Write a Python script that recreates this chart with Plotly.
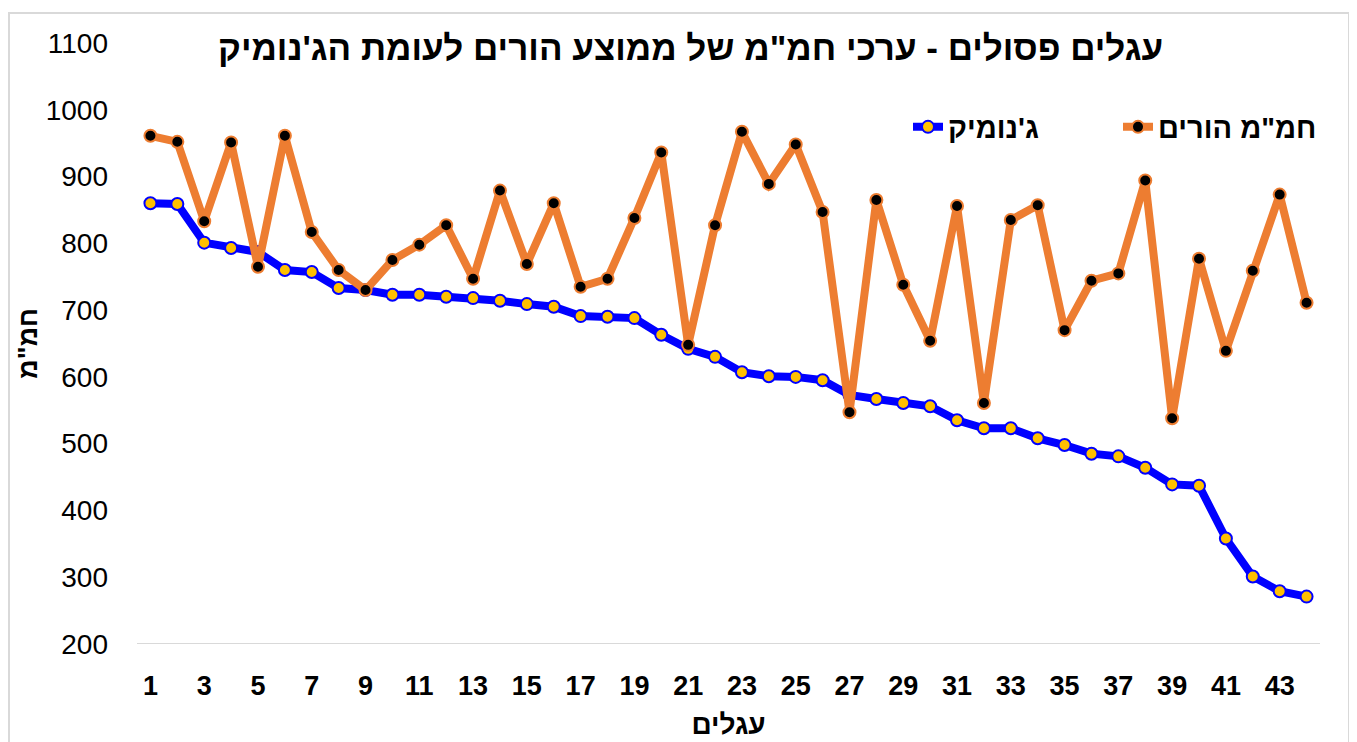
import plotly.graph_objects as go

calves = list(range(1, 45))
genomic = [860, 859, 801, 793, 787, 760, 757, 733, 730, 723, 723, 720, 718, 714, 709, 705,
           691, 690, 688, 663, 642, 630, 607, 601, 600, 595, 573, 567, 561, 556, 535, 523,
           523, 508, 498, 485, 481, 464, 439, 437, 358, 301, 279, 271]
parents = [961, 952, 833, 951, 765, 961, 817, 760, 730, 775, 798, 827, 747, 879, 769, 860,
           735, 747, 838, 936, 648, 827, 967, 889, 948, 847, 547, 865, 738, 654, 856, 561,
           835, 857, 670, 744, 755, 894, 538, 777, 639, 759, 873, 711]
tick_vals = list(range(1, 44, 2))
y_ticks = list(range(200, 1101, 100))

title_text = 'עגלים פסולים - ערכי חמ"מ של ממוצע הורים לעומת הג\'נומיק'
name_genomic = "ג'נומיק"
name_parents = 'חמ"מ הורים'
x_title = 'עגלים'
y_title = 'חמ"מ'

FONT = "Liberation Sans, Arial, sans-serif"

W, H = 1349, 734
L, R, T, B = 129, 37, 35, 98
PW, PH = W - L - R, H - T - B


def px_x(p):
    return (p - L) / PW


def px_y(p):
    return 1 - (p - T) / PH


fig = go.Figure()
fig.add_trace(go.Scatter(
    x=calves, y=genomic, name="<b>" + name_genomic + "</b>", mode="lines+markers",
    line=dict(color="#0000FF", width=8),
    marker=dict(size=12, color="#FFC000", line=dict(color="#0000FF", width=2)),
))
fig.add_trace(go.Scatter(
    x=calves, y=parents, name="<b>" + name_parents + "</b>", mode="lines+markers",
    line=dict(color="#ED7D31", width=8),
    marker=dict(size=12, color="#000000", line=dict(color="#ED7D31", width=2)),
))

fig.update_layout(
    width=W, height=H,
    paper_bgcolor="white", plot_bgcolor="white",
    margin=dict(l=L, r=R, t=T, b=B),
    font=dict(family=FONT, color="#000000", size=24),
    showlegend=True,
    legend=dict(orientation="h", x=px_x(900), xanchor="left", y=px_y(119), yanchor="middle",
                font=dict(family=FONT, size=29, color="#000000"),
                bgcolor="rgba(0,0,0,0)", tracegroupgap=0,
                entrywidth=165, entrywidthmode="pixels"),
    annotations=[
        dict(text="<b>" + title_text + "</b>", xref="paper", yref="paper",
             x=px_x(682), y=px_y(39), xanchor="center", yanchor="middle",
             showarrow=False, font=dict(family=FONT, size=35, color="#000000")),
    ],
    shapes=[
        dict(type="rect", xref="paper", yref="paper",
             x0=px_x(1), x1=px_x(1341), y0=px_y(760), y1=px_y(5),
             line=dict(color="#D9D9D9", width=2), fillcolor="rgba(0,0,0,0)", layer="below"),
    ],
)
fig.update_xaxes(
    range=[0.5, 44.5], tickmode="array", tickvals=tick_vals,
    ticktext=["<b>%d</b>" % v for v in tick_vals],
    showgrid=False, zeroline=False, showline=False, ticks="",
    tickfont=dict(family=FONT, size=27, color="#000000"),
    ticklabelstandoff=23, automargin=False,
    title=dict(text="<b>" + x_title + "</b>", font=dict(family=FONT, size=28), standoff=14),
)
fig.update_yaxes(
    range=[200, 1100], tickmode="array", tickvals=y_ticks,
    ticktext=["%d" % v for v in y_ticks],
    showgrid=False, zeroline=False, showline=False, ticks="",
    tickfont=dict(family=FONT, size=28, color="#000000"),
    ticklabelstandoff=28, automargin=False,
    title=dict(text="<b>" + y_title + "</b>", font=dict(family=FONT, size=27), standoff=0),
)
fig.add_shape(type="line", xref="paper", yref="y", x0=0, x1=1, y0=200, y1=200,
              line=dict(color="#D9D9D9", width=2), layer="below")

fig.write_html("out.html")
